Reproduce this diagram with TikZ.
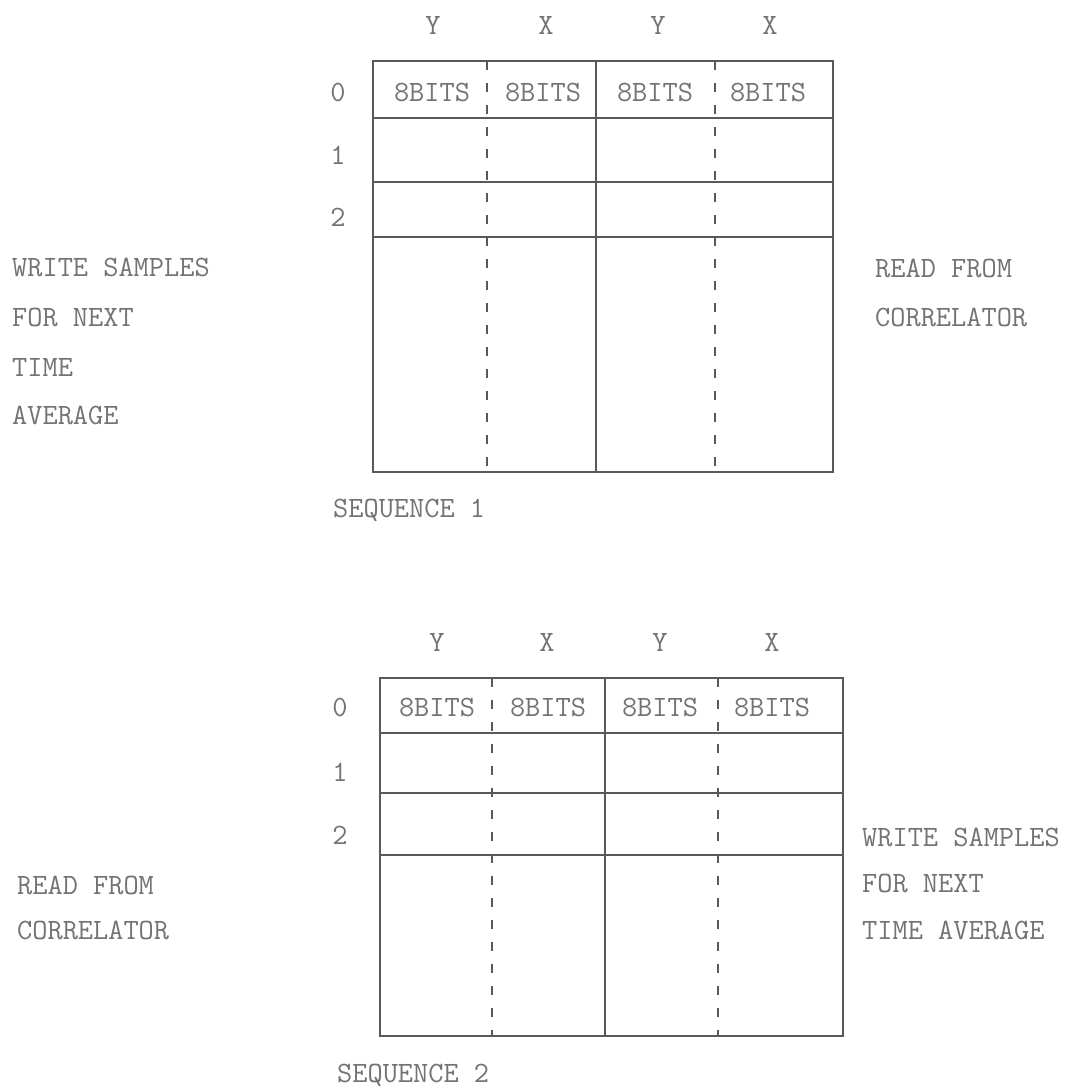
\documentclass[tikz,border=0pt]{standalone}
\usepackage{fontspec}
\begin{document}
\begin{tikzpicture}[x=1pt,y=-1pt,
  txt/.style={inner sep=0pt, text=black!55, font=\ttfamily\fontsize{29.5}{34}\selectfont},
  lbl/.style={txt, anchor=west},
  grid/.style={draw=black!65, line width=1.6pt},
  dsh/.style={draw=black!65, line width=1.6pt, dash pattern=on 9pt off 13pt}]
\useasboundingbox[fill=white] (0,0) rectangle (1070,1087);

% ---------- Sequence 1 ----------
\draw[grid] (373,61) rectangle (833,472);
\draw[grid] (373,118) -- (833,118);
\draw[grid] (373,182) -- (833,182);
\draw[grid] (373,237) -- (833,237);
\draw[grid] (596,61) -- (596,472);
\draw[dsh] (487,61) -- (487,472);
\draw[dsh] (715,61) -- (715,472);

\node[txt] (h1a) at (433,25) {Y};
\node[txt] (h1b) at (546,25) {X};
\node[txt] (h1c) at (658,25) {Y};
\node[txt] (h1d) at (770,25) {X};
\node[txt] (r1a) at (338,92) {0};
\node[txt] (r1b) at (338,155) {1};
\node[txt] (r1c) at (338,217) {2};
\node[txt] (c1a) at (432,92) {8BITS};
\node[txt] (c1b) at (543,92) {8BITS};
\node[txt] (c1c) at (655,92) {8BITS};
\node[txt] (c1d) at (768,92) {8BITS};
\node[lbl] (s1) at (333,510) {SEQUENCE 1};

\node[lbl] (w1a) at (12,267) {WRITE SAMPLES};
\node[lbl] (w1b) at (12,317) {FOR NEXT};
\node[lbl] (w1c) at (12,367) {TIME};
\node[lbl] (w1d) at (12,415) {AVERAGE};
\node[lbl] (rd1a) at (875,268) {READ FROM};
\node[lbl] (rd1b) at (875,317) {CORRELATOR};

% ---------- Sequence 2 ----------
\draw[grid] (380,678) rectangle (843,1036);
\draw[grid] (380,733) -- (843,733);
\draw[grid] (380,793) -- (843,793);
\draw[grid] (380,855) -- (843,855);
\draw[grid] (605,678) -- (605,1036);
\draw[dsh] (492,678) -- (492,1036);
\draw[dsh] (718,678) -- (718,1036);

\node[txt] (h2a) at (437,642) {Y};
\node[txt] (h2b) at (547,642) {X};
\node[txt] (h2c) at (660,642) {Y};
\node[txt] (h2d) at (772,642) {X};
\node[txt] (r2a) at (340,707) {0};
\node[txt] (r2b) at (340,772) {1};
\node[txt] (r2c) at (340,835) {2};
\node[txt] (c2a) at (437,707) {8BITS};
\node[txt] (c2b) at (548,707) {8BITS};
\node[txt] (c2c) at (660,707) {8BITS};
\node[txt] (c2d) at (772,707) {8BITS};
\node[lbl] (s2) at (337,1075) {SEQUENCE 2};

\node[lbl] (rd2a) at (17,885) {READ FROM};
\node[lbl] (rd2b) at (17,930) {CORRELATOR};
\node[lbl] (w2a) at (862,837) {WRITE SAMPLES};
\node[lbl] (w2b) at (862,883) {FOR NEXT};
\node[lbl] (w2c) at (862,930) {TIME AVERAGE};
\end{tikzpicture}
\end{document}
